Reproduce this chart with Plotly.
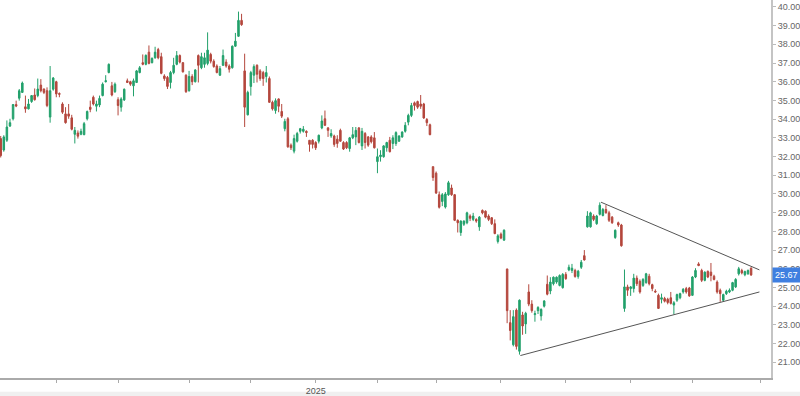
import pandas as pd
import plotly.graph_objects as go

# ---------------- data ----------------
holidays = ["2024-09-02", "2024-11-28", "2024-12-25", "2025-01-01", "2025-01-09",
            "2025-01-20", "2025-02-17", "2025-04-18", "2025-05-26", "2025-06-19", "2025-07-04"]
start_date = "2024-08-07"
end_date = "2025-07-29"
dates = pd.bdate_range(start_date, end_date, freq="C", holidays=holidays)

opens = [
    32.96, 32.35, 32.87, 33.63, 34.02, 34.78, 35.12, 35.43, 34.66, 34.55,
    34.94, 35.29, 35.26, 35.82, 35.61, 35.52, 34.11, 35.6, 36.0, 35.37,
    34.81, 34.28, 34.28, 34.07, 33.19, 33.26, 33.19, 33.17, 34.02, 34.64,
    35.17, 34.69, 34.76, 35.26, 36.0, 36.49, 35.78, 35.47, 35.04, 34.64,
    35.03, 36.05, 36.0, 35.78, 35.96, 36.49, 37.02, 36.93, 37.58, 37.02,
    37.28, 37.72, 37.34, 36.31, 36.23, 35.96, 36.49, 36.93, 37.4, 37.02,
    36.35, 35.52, 36.28, 36.0, 37.4, 36.75, 36.93, 36.98, 37.46, 37.1,
    36.84, 36.35, 36.88, 37.05, 36.84, 36.75, 37.9, 38.43, 39.28, 36.58,
    34.23, 35.75, 36.35, 36.88, 36.58, 36.49, 36.28, 36.17, 34.9, 34.46,
    35.08, 34.41, 33.49, 34.02, 32.61, 32.29, 32.82, 33.35, 33.35, 33.35,
    32.87, 32.87, 32.75, 32.82, 33.53, 34.02, 33.53, 33.1, 33.1, 32.93,
    33.4, 32.75, 32.75, 32.43, 33.0, 33.05, 33.53, 32.57, 33.23, 33.05,
    33.05, 33.0, 31.73, 31.99, 31.99, 32.47, 32.87, 32.7, 32.7, 32.82,
    33.05, 33.35, 33.84, 34.2, 34.87, 34.94, 34.81, 34.81, 33.98, 33.7,
    31.46, 31.11, 29.96, 29.6, 29.3, 29.96, 30.32, 29.96, 28.59, 27.94,
    28.38, 28.46, 28.82, 28.64, 28.64, 28.24, 29.12, 29.08, 28.82, 28.73,
    28.41, 27.46, 27.85, 27.53, 25.99, 23.12, 21.94, 23.79, 21.59, 23.53,
    23.05, 24.76, 24.11, 23.55, 23.76, 23.48, 24.0, 25.17, 24.81, 25.2,
    25.29, 25.11, 24.99, 25.7, 25.94, 25.91, 25.91, 25.59, 26.08, 26.7,
    28.24, 28.24, 28.82, 28.41, 28.91, 28.85, 29.17, 28.99, 28.76, 27.67,
    28.46, 28.34, 23.88, 25.03, 24.94, 24.94, 25.5, 25.33, 25.11, 25.26,
    25.6, 25.15, 24.8, 24.58, 24.37, 24.41, 24.37, 24.45, 24.06, 24.32,
    24.45, 24.76, 24.94, 24.97, 24.58, 25.56, 26.26, 25.91, 25.38, 25.86,
    25.82, 25.6, 25.29, 24.85, 24.32, 24.67, 24.76, 24.85, 25.03, 25.73,
    25.91, 25.68, 25.73, 26.03,
]
highs = [
    33.1, 33.14, 33.93, 34.02, 34.81, 34.99, 35.61, 36.01, 35.26, 35.08,
    35.29, 35.64, 36.17, 36.14, 35.64, 35.7, 36.84, 36.25, 36.05, 35.43,
    34.9, 34.64, 34.81, 34.23, 33.58, 33.4, 33.49, 33.85, 34.46, 34.99,
    35.26, 34.99, 35.26, 35.96, 36.35, 36.98, 35.99, 35.96, 35.17, 35.17,
    35.64, 36.17, 36.05, 36.17, 36.63, 36.84, 37.46, 37.46, 37.94, 37.3,
    37.87, 37.81, 37.55, 36.4, 36.31, 36.58, 37.28, 37.64, 37.46, 37.05,
    36.4, 36.58, 36.4, 36.67, 37.46, 37.55, 37.55, 38.64, 37.55, 37.2,
    36.93, 36.84, 37.72, 37.2, 36.93, 37.94, 38.61, 39.75, 39.63, 37.5,
    35.52, 36.58, 36.93, 36.93, 36.67, 36.58, 36.84, 36.28, 34.99, 35.11,
    35.11, 34.81, 34.02, 34.11, 32.7, 33.17, 33.32, 33.53, 33.63, 33.4,
    32.87, 32.93, 32.82, 33.17, 34.2, 34.46, 33.58, 33.46, 33.17, 33.14,
    33.49, 32.82, 32.82, 33.05, 33.58, 33.58, 33.58, 33.53, 33.31, 33.1,
    33.14, 33.31, 32.43, 32.34, 32.61, 32.79, 33.05, 33.14, 33.35, 33.14,
    33.35, 33.84, 34.29, 34.87, 34.94, 34.99, 35.29, 34.87, 34.06, 33.76,
    31.46, 31.2, 30.13, 30.05, 30.1, 30.7, 30.5, 30.0, 28.64, 28.59,
    28.59, 29.05, 28.91, 28.99, 28.7, 28.82, 29.17, 29.12, 28.91, 28.76,
    28.64, 27.85, 27.94, 28.11, 26.0, 23.79, 23.79, 23.88, 24.36, 23.7,
    23.7, 25.17, 24.32, 23.76, 24.0, 23.88, 24.32, 25.64, 25.55, 25.59,
    25.59, 25.7, 25.77, 25.82, 26.22, 26.26, 26.0, 25.94, 26.47, 27.0,
    29.08, 29.05, 28.91, 28.88, 29.55, 29.25, 29.4, 29.1, 28.82, 28.1,
    28.52, 28.4, 25.96, 25.15, 25.08, 25.73, 25.64, 25.43, 25.5, 25.78,
    25.73, 25.2, 24.9, 24.67, 24.67, 24.5, 24.45, 24.76, 24.27, 24.67,
    24.72, 24.97, 25.03, 25.03, 25.61, 26.03, 26.35, 26.0, 25.86, 25.91,
    26.31, 25.68, 25.38, 24.94, 24.67, 24.88, 24.95, 25.3, 25.5, 26.1,
    26.0, 25.9, 25.96, 26.08,
]
lows = [
    31.95, 32.26, 32.78, 33.58, 33.93, 34.64, 34.99, 35.4, 34.34, 34.52,
    34.87, 34.99, 35.17, 35.43, 35.34, 34.64, 33.81, 35.52, 35.17, 35.17,
    34.28, 33.76, 34.02, 33.4, 32.7, 32.96, 33.14, 33.14, 33.93, 34.37,
    34.73, 34.41, 34.64, 35.22, 35.96, 36.45, 35.22, 35.4, 34.2, 34.4,
    34.97, 35.93, 35.78, 35.22, 35.93, 36.45, 36.88, 36.88, 36.93, 36.98,
    37.23, 37.2, 36.4, 36.05, 35.61, 35.64, 36.4, 36.88, 36.98, 36.49,
    35.4, 35.47, 35.82, 35.96, 35.96, 36.67, 36.75, 36.88, 36.98, 36.75,
    36.45, 36.31, 36.84, 36.75, 36.49, 36.7, 37.87, 38.4, 38.99, 33.58,
    34.2, 35.26, 35.93, 35.96, 36.05, 35.78, 35.96, 34.87, 34.46, 34.29,
    34.37, 34.06, 33.35, 32.47, 32.35, 32.17, 32.75, 33.23, 33.28, 33.05,
    32.26, 32.43, 32.35, 32.7, 33.46, 33.63, 33.05, 33.0, 32.52, 32.47,
    32.79, 32.35, 32.4, 32.26, 32.93, 32.61, 32.7, 32.35, 32.43, 32.52,
    32.7, 32.43, 31.11, 31.73, 31.94, 32.26, 32.22, 32.4, 32.57, 32.79,
    33.0, 33.28, 33.67, 34.11, 34.46, 34.55, 34.55, 34.02, 33.63, 33.14,
    30.7, 30.0, 29.22, 29.35, 29.22, 29.9, 29.9, 28.55, 27.94, 27.76,
    28.29, 28.38, 28.55, 28.55, 28.46, 28.03, 28.91, 28.7, 28.55, 28.34,
    27.85, 27.35, 27.58, 27.5, 23.09, 22.17, 21.85, 21.68, 21.41, 22.47,
    22.52, 24.0, 23.65, 23.17, 23.58, 23.23, 23.93, 24.58, 24.64, 25.11,
    25.2, 25.06, 24.94, 25.41, 25.87, 25.77, 25.52, 25.47, 25.99, 26.44,
    28.2, 28.2, 28.55, 28.35, 28.85, 28.8, 28.95, 28.5, 28.4, 27.6,
    28.24, 27.18, 23.7, 24.55, 24.55, 24.73, 25.08, 24.67, 25.03, 25.2,
    25.11, 24.8, 24.72, 23.85, 24.15, 24.2, 24.1, 24.09, 23.56, 24.23,
    24.37, 24.67, 24.67, 24.5, 24.55, 25.5, 26.14, 25.29, 25.33, 25.5,
    25.33, 25.38, 24.67, 24.23, 24.23, 24.6, 24.7, 24.8, 24.97, 25.64,
    25.7, 25.6, 25.68, 25.62,
]
closes = [
    32.05, 33.05, 33.58, 33.81, 34.78, 34.70, 35.52, 35.93, 34.55, 34.81,
    35.26, 35.04, 35.61, 35.52, 35.43, 34.73, 35.52, 36.2, 35.35, 35.33,
    34.37, 33.81, 34.16, 33.46, 33.4, 33.09, 33.35, 33.76, 34.41, 34.52,
    34.81, 34.81, 35.11, 35.87, 36.05, 36.93, 35.29, 35.87, 34.73, 35.08,
    35.6, 35.96, 35.87, 36.05, 36.58, 36.75, 36.93, 37.41, 36.98, 37.25,
    37.58, 37.28, 36.45, 36.17, 35.75, 36.49, 36.88, 37.4, 37.05, 36.53,
    35.47, 36.28, 36.0, 36.63, 36.88, 37.34, 37.28, 37.69, 37.1, 36.81,
    36.49, 36.7, 37.4, 36.84, 36.67, 37.9, 38.17, 39.28, 39.05, 34.64,
    35.43, 36.49, 36.81, 36.4, 36.17, 36.17, 36.49, 34.9, 34.55, 34.99,
    34.69, 34.16, 33.88, 32.52, 32.47, 32.96, 33.23, 33.49, 33.46, 33.28,
    32.65, 32.65, 32.47, 33.14, 33.9, 33.67, 33.4, 33.23, 32.65, 32.7,
    32.82, 32.4, 32.47, 33.0, 33.17, 33.4, 32.75, 33.35, 32.75, 32.61,
    32.79, 32.47, 31.99, 32.08, 32.57, 32.75, 32.26, 33.0, 33.28, 33.1,
    33.31, 33.67, 34.2, 34.73, 34.73, 34.64, 34.69, 34.06, 33.81, 33.17,
    30.88, 30.05, 29.29, 29.96, 30.0, 30.6, 29.96, 28.59, 28.46, 28.55,
    28.55, 28.99, 28.7, 28.82, 28.55, 28.76, 28.99, 28.76, 28.64, 28.41,
    27.88, 27.76, 27.64, 28.06, 23.76, 22.7, 23.44, 21.85, 24.32, 22.94,
    23.62, 24.11, 23.76, 23.6, 23.93, 23.83, 24.28, 24.64, 25.29, 25.55,
    25.55, 25.64, 25.7, 25.47, 26.08, 26.03, 25.59, 25.87, 26.35, 26.47,
    28.82, 28.99, 28.64, 28.82, 29.4, 29.17, 28.99, 28.59, 28.46, 28.06,
    28.34, 27.23, 25.03, 24.85, 25.03, 25.5, 25.2, 24.76, 25.43, 25.73,
    25.2, 24.94, 24.76, 23.88, 24.45, 24.27, 24.2, 24.15, 24.18, 24.62,
    24.67, 24.9, 24.76, 24.55, 25.56, 25.91, 26.17, 25.38, 25.82, 25.56,
    25.64, 25.43, 24.76, 24.67, 24.62, 24.8, 24.85, 25.26, 25.43, 26.0,
    25.78, 25.85, 25.91, 25.67,
]

# trend lines drawn on the chart (date, price)
upper_line_x = ["2025-05-16 09:36", "2025-07-31 16:48"]
upper_line_y = [29.56, 25.94]
lower_line_x = ["2025-04-09 07:00", "2025-07-31 16:48"]
lower_line_y = [21.36, 24.76]

last_price = 25.67

# axis ticks
month_ticks = ["2024-09-03", "2024-10-01", "2024-11-01", "2024-12-02", "2025-01-02", "2025-02-03",
               "2025-03-03", "2025-04-01", "2025-05-01", "2025-06-02", "2025-07-01", "2025-08-01"]
month_labels = ["", "", "", "", "2025", "", "", "", "", "", "", ""]
price_ticks = list(range(21, 41))

# ---------------- figure ----------------
UP = "#22a06b"
DOWN = "#b4473d"

fig = go.Figure()
fig.add_trace(go.Candlestick(
    x=dates, open=opens, high=highs, low=lows, close=closes,
    increasing=dict(line=dict(color=UP, width=1), fillcolor=UP),
    decreasing=dict(line=dict(color=DOWN, width=1), fillcolor=DOWN),
    showlegend=False, hoverinfo="skip",
))
for lx, ly in ((upper_line_x, upper_line_y), (lower_line_x, lower_line_y)):
    fig.add_trace(go.Scatter(x=lx, y=ly, mode="lines",
                             line=dict(color="#555555", width=1),
                             showlegend=False, hoverinfo="skip"))

fig.add_annotation(
    xref="paper", x=1.0, xanchor="left", yref="y", y=last_price,
    text=f"{last_price:.2f}", showarrow=False,
    font=dict(family="Liberation Sans, Arial", size=9, color="white"),
    bgcolor="#3f7fe0", borderpad=2, xshift=1,
)

# light band along the bottom
fig.add_shape(type="rect", xref="paper", yref="paper", x0=0, x1=1.04, y0=-0.0365, y1=-0.05,
              fillcolor="#f0f0f0", line=dict(width=0), layer="below")

fig.update_layout(
    width=800, height=396,
    margin=dict(l=0, r=26, t=0, b=14),
    paper_bgcolor="white", plot_bgcolor="white",
    font=dict(family="Liberation Sans, Arial", size=9, color="#555555"),
    showlegend=False,
    xaxis=dict(
        type="date",
        rangeslider=dict(visible=False),
        rangebreaks=[dict(bounds=["sat", "mon"]), dict(values=holidays)],
        range=["2024-08-06 18:29", "2025-08-06 10:48"],
        tickvals=month_ticks, ticktext=month_labels,
        ticks="outside", ticklen=3, tickcolor="#aaaaaa",
        showline=True, linecolor="#aaaaaa", linewidth=1.5,
        showgrid=False, zeroline=False,
        tickfont=dict(size=9, color="#555555"),
    ),
    yaxis=dict(
        side="right",
        range=[20.16, 40.37],
        tickvals=price_ticks, tickformat=".2f",
        ticks="outside", ticklen=3, tickcolor="#bbbbbb",
        showline=True, linecolor="#c4c4c4", linewidth=2,
        showgrid=False, zeroline=False,
        tickfont=dict(size=9, color="#666666"),
    ),
)

fig.write_html("out.html")
